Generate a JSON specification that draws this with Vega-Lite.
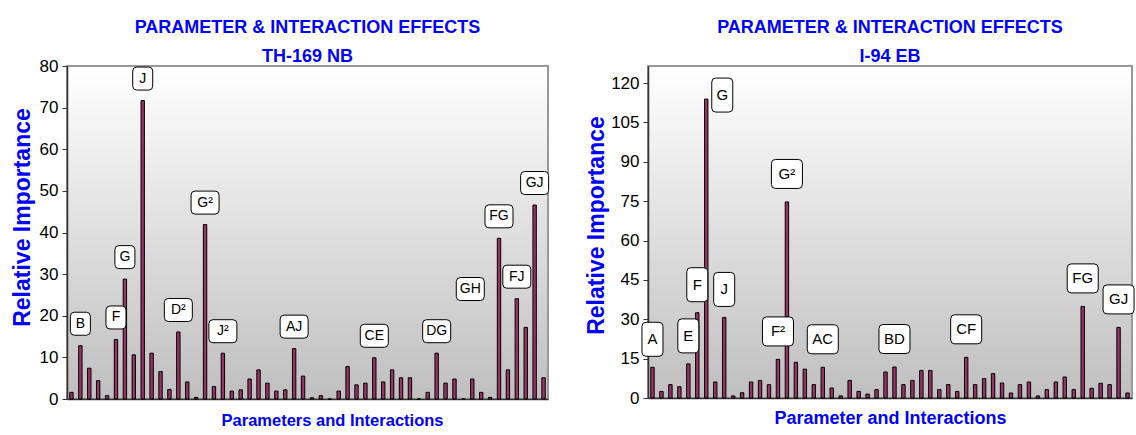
{
  "$schema": "https://vega.github.io/schema/vega-lite/v6.json",
  "background": "white",
  "padding": {"left": 10, "top": 18, "right": 5, "bottom": 5},
  "spacing": 32,
  "config": {
    "view": {
      "stroke": "#999999",
      "strokeWidth": 2,
      "fill": {"gradient": "linear", "x1": 0, "y1": 0, "x2": 0, "y2": 1,
        "stops": [{"offset": 0, "color": "#ffffff"}, {"offset": 1, "color": "#bfbfbf"}]}
    },
    "font": "Liberation Sans",
    "title": {"font": "Liberation Sans", "fontSize": 18, "fontWeight": "bold", "color": "#0000ff", "lineHeight": 29, "anchor": "middle", "frame": "group"},
    "axis": {"labelFont": "Liberation Sans", "labelFontSize": 17, "labelColor": "black",
      "titleFont": "Liberation Sans", "titleFontWeight": "bold", "titleColor": "#0000ff",
      "domainColor": "#333333", "tickColor": "#333333", "grid": false}
  },
  "hconcat": [
    {
      "width": 481,
      "height": 333,
      "title": {"text": ["PARAMETER & INTERACTION EFFECTS", "TH-169 NB"], "offset": -9},
      "data": {"values": [
        {"i":1,"v":1.6,"l":""},{"i":2,"v":12.8,"l":"B"},{"i":3,"v":7.4,"l":""},{"i":4,"v":4.4,"l":""},{"i":5,"v":0.8,"l":""},
        {"i":6,"v":14.3,"l":"F"},{"i":7,"v":28.8,"l":"G"},{"i":8,"v":10.6,"l":""},{"i":9,"v":71.7,"l":"J"},{"i":10,"v":11.0,"l":""},
        {"i":11,"v":6.6,"l":""},{"i":12,"v":2.3,"l":""},{"i":13,"v":16.1,"l":"D²"},{"i":14,"v":4.1,"l":""},{"i":15,"v":0.4,"l":""},
        {"i":16,"v":41.9,"l":"G²"},{"i":17,"v":3.0,"l":""},{"i":18,"v":11.0,"l":"J²"},{"i":19,"v":1.9,"l":""},{"i":20,"v":2.2,"l":""},
        {"i":21,"v":4.8,"l":""},{"i":22,"v":7.0,"l":""},{"i":23,"v":3.8,"l":""},{"i":24,"v":1.9,"l":""},{"i":25,"v":2.2,"l":""},
        {"i":26,"v":12.1,"l":"AJ"},{"i":27,"v":5.5,"l":""},{"i":28,"v":0.3,"l":""},{"i":29,"v":0.8,"l":""},{"i":30,"v":0,"l":""},
        {"i":31,"v":1.9,"l":""},{"i":32,"v":7.8,"l":""},{"i":33,"v":3.4,"l":""},{"i":34,"v":3.8,"l":""},{"i":35,"v":9.9,"l":"CE"},
        {"i":36,"v":4.1,"l":""},{"i":37,"v":7.0,"l":""},{"i":38,"v":5.1,"l":""},{"i":39,"v":5.1,"l":""},{"i":40,"v":0,"l":""},
        {"i":41,"v":1.6,"l":""},{"i":42,"v":11.0,"l":"DG"},{"i":43,"v":3.8,"l":""},{"i":44,"v":4.8,"l":""},{"i":45,"v":0,"l":""},
        {"i":46,"v":4.8,"l":"GH"},{"i":47,"v":1.6,"l":""},{"i":48,"v":0.4,"l":""},{"i":49,"v":38.6,"l":"FG"},{"i":50,"v":7.0,"l":""},
        {"i":51,"v":24.1,"l":"FJ"},{"i":52,"v":17.2,"l":""},{"i":53,"v":46.6,"l":"GJ"},{"i":54,"v":5.1,"l":""}
      ]},
      "encoding": {
        "x": {"field": "i", "type": "ordinal",
          "scale": {"paddingInner": 0.62, "paddingOuter": 0.31},
          "axis": {"title": "Parameters and Interactions", "labels": false, "ticks": false, "titleFontSize": 16.5, "titlePadding": 13, "titleX": 265, "domainWidth": 1.5}},
        "y": {"field": "v", "type": "quantitative",
          "scale": {"domain": [0, 80], "nice": false},
          "axis": {"title": "Relative Importance", "values": [0,10,20,30,40,50,60,70,80], "tickSize": 5, "labelPadding": 4, "titleFontSize": 23, "titlePadding": 5, "titleY": 151, "domainWidth": 1.5}}
      },
      "layer": [
        {"mark": {"type": "bar", "fill": "#993366", "stroke": "black", "strokeWidth": 1}},
        {"transform": [{"filter": "datum.l != '' && datum.l != 'GH'"}],
          "mark": {"type": "point", "filled": true, "fill": "white", "stroke": "black", "strokeWidth": 1, "opacity": 1, "size": 100, "yOffset": -22},
          "encoding": {"shape": {"condition": {"test": "length(datum.l) > 1", "value": "M-2,-2.3L2,-2.3Q2.8,-2.3 2.8,-1.5L2.8,1.5Q2.8,2.3 2,2.3L-2,2.3Q-2.8,2.3 -2.8,1.5L-2.8,-1.5Q-2.8,-2.3 -2,-2.3Z"},
            "value": "M-1.2,-2.3L1.2,-2.3Q2,-2.3 2,-1.5L2,1.5Q2,2.3 1.2,2.3L-1.2,2.3Q-2,2.3 -2,1.5L-2,-1.5Q-2,-2.3 -1.2,-2.3Z"}}},
        {"transform": [{"filter": "datum.l != '' && datum.l != 'GH'"}],
          "mark": {"type": "text", "fontSize": 14, "color": "black", "baseline": "middle", "align": "center", "yOffset": -22},
          "encoding": {"text": {"field": "l"}}},
        {"transform": [{"filter": "datum.l == 'GH'"}],
          "mark": {"type": "point", "filled": true, "fill": "white", "stroke": "black", "strokeWidth": 1, "opacity": 1, "size": 100, "yOffset": -90, "xOffset": -2,
            "shape": "M-2,-2.3L2,-2.3Q2.8,-2.3 2.8,-1.5L2.8,1.5Q2.8,2.3 2,2.3L-2,2.3Q-2.8,2.3 -2.8,1.5L-2.8,-1.5Q-2.8,-2.3 -2,-2.3Z"}},
        {"transform": [{"filter": "datum.l == 'GH'"}],
          "mark": {"type": "text", "fontSize": 14, "color": "black", "baseline": "middle", "align": "center", "yOffset": -90, "xOffset": -2},
          "encoding": {"text": {"field": "l"}}}
      ]
    },
    {
      "width": 484,
      "height": 332,
      "title": {"text": ["PARAMETER & INTERACTION EFFECTS", "I-94 EB"], "offset": 0},
      "data": {"values": [
        {"i":1,"v":11.7,"l":"A"},{"i":2,"v":2.5,"l":""},{"i":3,"v":5.1,"l":""},{"i":4,"v":4.3,"l":""},{"i":5,"v":13.0,"l":"E"},
        {"i":6,"v":32.5,"l":"F"},{"i":7,"v":113.9,"l":"G"},{"i":8,"v":6.1,"l":""},{"i":9,"v":30.7,"l":"J"},{"i":10,"v":0.8,"l":""},
        {"i":11,"v":2.0,"l":""},{"i":12,"v":6.1,"l":""},{"i":13,"v":6.7,"l":""},{"i":14,"v":5.1,"l":""},{"i":15,"v":14.7,"l":"F²"},
        {"i":16,"v":74.7,"l":"G²"},{"i":17,"v":13.6,"l":""},{"i":18,"v":11.0,"l":""},{"i":19,"v":5.1,"l":""},{"i":20,"v":11.7,"l":"AC"},
        {"i":21,"v":3.8,"l":""},{"i":22,"v":0.8,"l":""},{"i":23,"v":6.7,"l":""},{"i":24,"v":2.5,"l":""},{"i":25,"v":1.5,"l":""},
        {"i":26,"v":3.2,"l":""},{"i":27,"v":9.9,"l":""},{"i":28,"v":11.8,"l":"BD"},{"i":29,"v":5.1,"l":""},{"i":30,"v":6.7,"l":""},
        {"i":31,"v":10.5,"l":""},{"i":32,"v":10.5,"l":""},{"i":33,"v":3.2,"l":""},{"i":34,"v":5.1,"l":""},{"i":35,"v":2.5,"l":""},
        {"i":36,"v":15.5,"l":"CF"},{"i":37,"v":5.1,"l":""},{"i":38,"v":7.4,"l":""},{"i":39,"v":9.3,"l":""},{"i":40,"v":5.7,"l":""},
        {"i":41,"v":1.9,"l":""},{"i":42,"v":5.1,"l":""},{"i":43,"v":6.1,"l":""},{"i":44,"v":0.8,"l":""},{"i":45,"v":3.2,"l":""},
        {"i":46,"v":6.1,"l":""},{"i":47,"v":8.0,"l":""},{"i":48,"v":3.2,"l":""},{"i":49,"v":34.9,"l":"FG"},{"i":50,"v":3.7,"l":""},
        {"i":51,"v":5.6,"l":""},{"i":52,"v":5.1,"l":""},{"i":53,"v":26.9,"l":"GJ"},{"i":54,"v":1.9,"l":""}
      ]},
      "encoding": {
        "x": {"field": "i", "type": "ordinal",
          "scale": {"paddingInner": 0.62, "paddingOuter": 0.31},
          "axis": {"title": "Parameter and Interactions", "labels": false, "ticks": false, "titleFontSize": 18, "titlePadding": 11, "domainWidth": 1.5}},
        "y": {"field": "v", "type": "quantitative",
          "scale": {"domain": [0, 126.5], "nice": false},
          "axis": {"title": "Relative Importance", "values": [0,15,30,45,60,75,90,105,120], "tickSize": 5, "labelPadding": 4, "titleFontSize": 23, "titlePadding": 2, "titleY": 159, "domainWidth": 1.5}}
      },
      "layer": [
        {"mark": {"type": "bar", "fill": "#993366", "stroke": "black", "strokeWidth": 1}},
        {"transform": [{"filter": "datum.l != '' && datum.l != 'G'"}],
          "mark": {"type": "point", "filled": true, "fill": "white", "stroke": "black", "strokeWidth": 1, "opacity": 1, "size": 100, "yOffset": -28},
          "encoding": {"shape": {"condition": {"test": "length(datum.l) > 1", "value": "M-2.3,-2.9L2.3,-2.9Q3.1,-2.9 3.1,-2.1L3.1,2.1Q3.1,2.9 2.3,2.9L-2.3,2.9Q-3.1,2.9 -3.1,2.1L-3.1,-2.1Q-3.1,-2.9 -2.3,-2.9Z"},
            "value": "M-1.3,-3.4L1.3,-3.4Q2.1,-3.4 2.1,-2.6L2.1,2.6Q2.1,3.4 1.3,3.4L-1.3,3.4Q-2.1,3.4 -2.1,2.6L-2.1,-2.6Q-2.1,-3.4 -1.3,-3.4Z"}}},
        {"transform": [{"filter": "datum.l != '' && datum.l != 'G'"}],
          "mark": {"type": "text", "fontSize": 15, "color": "black", "baseline": "middle", "align": "center", "yOffset": -28},
          "encoding": {"text": {"field": "l"}}},
        {"transform": [{"filter": "datum.l == 'G'"}],
          "mark": {"type": "point", "filled": true, "fill": "white", "stroke": "black", "strokeWidth": 1, "opacity": 1, "size": 100, "yOffset": -4, "xOffset": 16,
            "shape": "M-1.3,-3.4L1.3,-3.4Q2.1,-3.4 2.1,-2.6L2.1,2.6Q2.1,3.4 1.3,3.4L-1.3,3.4Q-2.1,3.4 -2.1,2.6L-2.1,-2.6Q-2.1,-3.4 -1.3,-3.4Z"}},
        {"transform": [{"filter": "datum.l == 'G'"}],
          "mark": {"type": "text", "fontSize": 15, "color": "black", "baseline": "middle", "align": "center", "yOffset": -4, "xOffset": 16},
          "encoding": {"text": {"field": "l"}}}
      ]
    }
  ]
}
